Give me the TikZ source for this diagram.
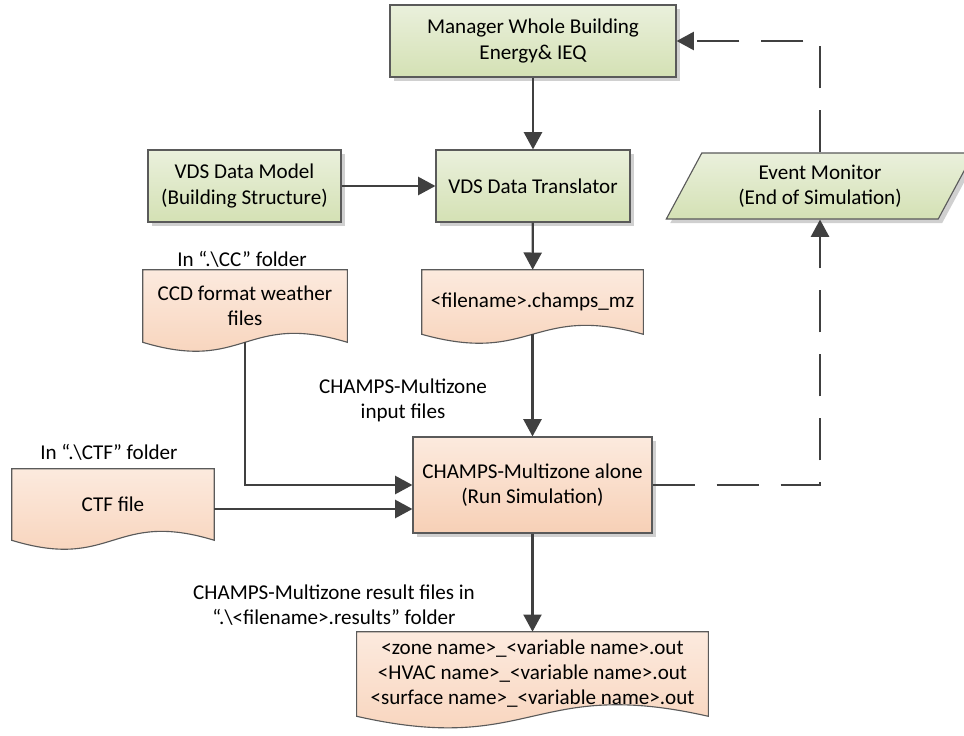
\documentclass[tikz,border=0pt]{standalone}
\usepackage{fontspec}
\setmainfont{Carlito}
\usetikzlibrary{shapes.geometric, arrows.meta, calc, shadows, backgrounds}
\definecolor{boxgreen}{RGB}{212,225,180}
\definecolor{boxgreenlt}{RGB}{234,240,220}
\definecolor{filepeach}{RGB}{247,208,182}
\definecolor{filepeachlt}{RGB}{252,234,222}
\definecolor{edgegray}{RGB}{90,90,90}
\definecolor{linegray}{RGB}{64,64,64}
\definecolor{shadowgray}{RGB}{208,208,208}
\newcommand{\figfont}{\fontsize{15}{17.8}\selectfont}
% file shape: box with wavy bottom, drawn behind node #1
\newcommand{\docoutline}[2]{%
  \fill[shadowgray, shift={(4,4)}] (#1.north west) -- (#1.north east) -- (#1.south east)
    .. controls ($(#1.south)+(0,-#2)$) and ($(#1.south)+(0,#2)$) .. (#1.south west) -- cycle;
  \draw[edgegray, line width=0.8pt, top color=filepeachlt, bottom color=filepeach] (#1.north west) -- (#1.north east) -- (#1.south east)
    .. controls ($(#1.south)+(0,-#2)$) and ($(#1.south)+(0,#2)$) .. (#1.south west) -- cycle;
}

\begin{document}
\begin{tikzpicture}[
  x=0.025cm, y=-0.025cm,
  box/.style={draw=edgegray, line width=0.8pt, top color=boxgreenlt, bottom color=boxgreen,
              drop shadow={shadow xshift=0.1cm, shadow yshift=-0.1cm, fill=shadowgray, opacity=1},
              minimum height=1.8cm, align=center, font=\figfont},
  runbox/.style={box, top color=filepeachlt, bottom color=filepeach},
  filebox/.style={inner sep=0pt, align=center, font=\figfont},
  lbl/.style={align=center, font=\figfont},
  arr/.style={-{Triangle[length=0.43cm, width=0.45cm]}, line width=1.6pt, linegray},
  dasharr/.style={arr, dash pattern=on 1.05cm off 0.55cm}
]
  \useasboundingbox (0,0) rectangle (964,735);

  \node[box, minimum width=7.15cm] (mgr) at (533,41) {Manager Whole Building\\Energy\& IEQ};
  \node[box, minimum width=4.85cm] (trans) at (533,186) {VDS Data Translator};
  \node[box, minimum width=4.825cm] (model) at (244.5,186) {VDS Data Model\\(Building Structure)};
  \node[box, trapezium, trapezium left angle=63.4, trapezium right angle=116.6,
        trapezium stretches=true, minimum width=7.7cm, minimum height=1.65cm] (evt) at (820,186)
        {Event Monitor\\(End of Simulation)};

  \node[filebox, minimum width=5.1cm, minimum height=1.8cm] (ccd) at (245,306) {CCD format weather\\files};
  \node[filebox, minimum width=5.525cm, minimum height=1.6cm] (mz) at (532.5,302) {<filename>.champs\_mz};
  \node[filebox, minimum width=5.05cm, minimum height=1.775cm] (ctf) at (113,504.5) {CTF file};
  \node[runbox, minimum width=5.975cm, minimum height=2.4cm] (champs) at (532.5,485) {CHAMPS-Multizone alone\\(Run Simulation)};
  \node[filebox, minimum width=8.775cm, minimum height=2.1cm] (out) at (532.5,674)
        {<zone name>\_<variable name>.out\\<HVAC name>\_<variable name>.out\\<surface name>\_<variable name>.out};

  \node[lbl] (cclbl) at (242,259) {In “.\textbackslash CC” folder};
  \node[lbl] (ctflbl) at (109,452) {In “.\textbackslash CTF” folder};
  \node[lbl] (inlbl) at (403,400) {CHAMPS-Multizone\\input files};
  \node[lbl] (reslbl) at (334,605) {CHAMPS-Multizone result files in\\“.\textbackslash<filename>.results” folder};

  \begin{pgfonlayer}{background}
    \docoutline{ccd}{31}
    \docoutline{mz}{31}
    \docoutline{ctf}{31}
    \docoutline{out}{40}
  \end{pgfonlayer}

  \coordinate (ctfin) at ($(champs.west)+(0,24)$);

  \draw[arr] (mgr) -- (trans);
  \draw[arr] (model) -- (trans);
  \draw[arr] (trans) -- (mz);
  \draw[arr] (mz.south) -- (champs);
  \draw[arr] (ccd.south) |- (champs.west);
  \draw[arr] (ctf.east |- ctfin) -- (ctfin);
  \draw[arr] (champs) -- (out);
  \draw[dasharr] (champs.east) -| (evt.south);
  \draw[dasharr] (evt.north) |- (mgr.east);
\end{tikzpicture}
\end{document}
